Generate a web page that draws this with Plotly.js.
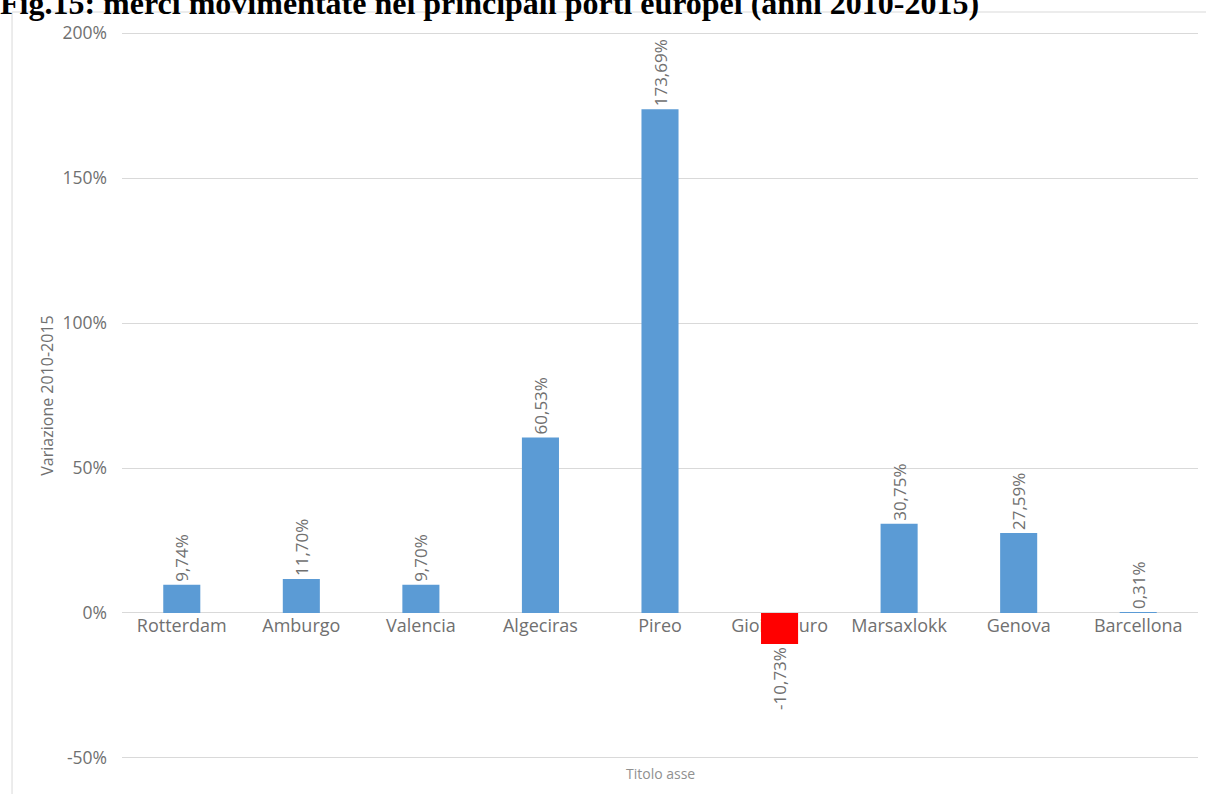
<!DOCTYPE html>
<html>
<head>
<meta charset="utf-8">
<script src="https://cdn.plot.ly/plotly-3.0.1.min.js"></script>
<style>
  html, body { margin: 0; padding: 0; background: #ffffff; }
  #chart { width: 1206px; height: 794px; }
</style>
</head>
<body>
<div id="chart"></div>
<script>
// ---- Data ----
const ports = ["Rotterdam", "Amburgo", "Valencia", "Algeciras", "Pireo", "Gioia Tauro", "Marsaxlokk", "Genova", "Barcellona"];
const variation = [9.74, 11.70, 9.70, 60.53, 173.69, -10.73, 30.75, 27.59, 0.31];
const yTickValues = [-50, 0, 50, 100, 150, 200];
const yTickLabels = ["-50%", "0%", "50%", "100%", "150%", "200%"];
const chartTitle = "Fig.15: merci movimentate nei principali porti europei (anni 2010-2015)";
const yTitle = "Variazione 2010-2015";
const xTitle = "Titolo asse";

// ---- Styles ----
const BLUE = "#5b9bd5";
const RED = "#ff0000";
const GREY_TEXT = "#707070";
const GRID = "#d9d9d9";
const FONT = "Open Sans, sans-serif";

const labels = variation.map(v => v.toFixed(2).replace(".", ",") + "%");
const colors = variation.map(v => v < 0 ? RED : BLUE);

const trace = {
  type: "bar",
  x: ports,
  y: variation,
  marker: { color: colors, line: { width: 0 } },
  text: labels,
  textposition: "outside",
  textangle: -90,
  constraintext: "none",
  textfont: { family: FONT, size: 17, color: GREY_TEXT },
  cliponaxis: false,
  hoverinfo: "x+y"
};

const yMin = -50, yMax = 200;
const edgePad = 0.35; // keeps the -50% and 200% gridlines visible

const layout = {
  width: 1206,
  height: 794,
  paper_bgcolor: "#ffffff",
  plot_bgcolor: "#ffffff",
  margin: { l: 122, r: 8, t: 32, b: 35 },
  showlegend: false,
  bargap: 0.69,
  separators: ",.",
  title: {
    text: "<b>" + chartTitle + "</b>",
    font: { family: "Liberation Serif, Times New Roman, serif", size: 32, color: "#000000" },
    x: 0, xref: "container", xanchor: "left",
    y: 0.997, yref: "container", yanchor: "middle",
    pad: { t: 0, b: 0, l: 0, r: 0 }
  },
  xaxis: {
    type: "category",
    anchor: "free",
    position: (0 - (yMin - edgePad)) / ((yMax + edgePad) - (yMin - edgePad)),
    layer: "below traces",
    showgrid: false,
    showline: false,
    zeroline: false,
    ticks: "",
    tickfont: { family: FONT, size: 18, color: GREY_TEXT },
    automargin: false
  },
  yaxis: {
    range: [yMin - edgePad, yMax + edgePad],
    tickvals: yTickValues,
    ticktext: yTickLabels,
    showgrid: true,
    gridcolor: GRID,
    gridwidth: 1,
    zeroline: true,
    zerolinecolor: GRID,
    zerolinewidth: 1,
    showline: false,
    ticks: "",
    ticklabelstandoff: 14,
    tickfont: { family: FONT, size: 17.5, color: GREY_TEXT },
    title: {
      text: yTitle,
      font: { family: FONT, size: 16, color: GREY_TEXT },
      standoff: 4
    },
    automargin: false
  },
  annotations: [{
    text: xTitle,
    xref: "paper", yref: "paper",
    x: 0.5, y: -0.004,
    xanchor: "center", yanchor: "top",
    showarrow: false,
    font: { family: FONT, size: 14, color: "#909090" }
  }],
  shapes: [{
    type: "rect",
    xref: "paper", yref: "paper",
    x0: -0.1022, x1: 1.02,
    y0: -0.2, y1: 1.0275,
    line: { color: GRID, width: 1 },
    fillcolor: "rgba(0,0,0,0)",
    layer: "below"
  }]
};

Plotly.newPlot("chart", [trace], layout, { displayModeBar: false, staticPlot: true });
</script>
</body>
</html>
